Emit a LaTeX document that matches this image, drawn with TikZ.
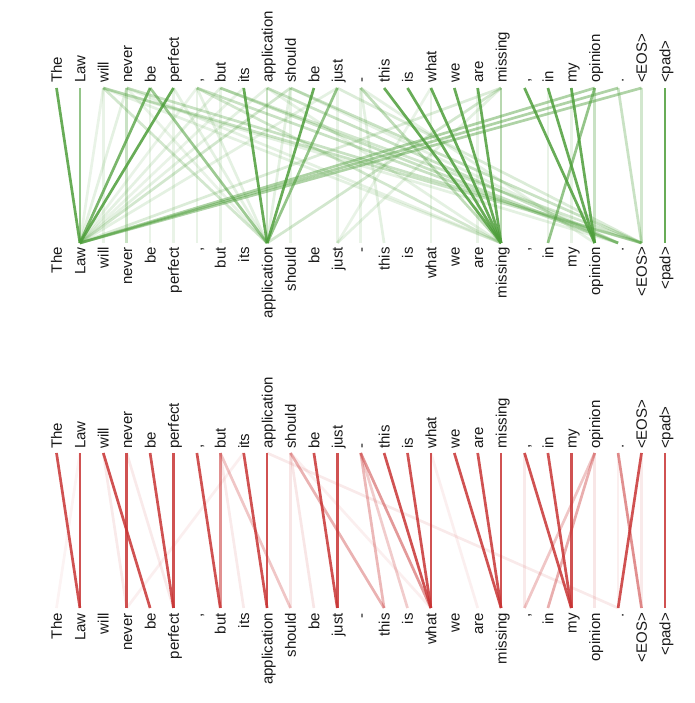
\documentclass[tikz,border=0pt]{standalone}
\usepackage{fontspec}
\setmainfont{Liberation Sans}
\definecolor{gcol}{RGB}{77,158,58}
\definecolor{rcol}{RGB}{200,52,52}
\begin{document}
\begin{tikzpicture}[x=1pt,y=1pt,
  lbl/.style={font=\fontsize{15}{18}\selectfont, rotate=90, inner sep=0pt, text=black!90},
  glink/.style={draw=gcol, line width=2.7pt},
  rlink/.style={draw=rcol, line width=2.7pt}]
\useasboundingbox (0,0) rectangle (694,703);
\foreach \w [count=\n from 0] in {The, Law, will, never, be, perfect, {,}, but, its, application, should, be, just, -, this, is, what, we, are, missing, {,}, in, my, opinion, ., <EOS>, <pad>} {
  \pgfmathsetmacro{\xx}{56.5+23.4*\n}
  \coordinate (gT\n) at (\xx,615);
  \coordinate (gB\n) at (\xx,460);
  \coordinate (rT\n) at (\xx,250);
  \coordinate (rB\n) at (\xx,95);
  \node[lbl, anchor=base west] (gtl\n) at (\xx+5.4,620) {\w};
  \node[lbl, anchor=base east] (gbl\n) at (\xx+5.4,456) {\w};
  \node[lbl, anchor=base west] (rtl\n) at (\xx+5.4,254) {\w};
  \node[lbl, anchor=base east] (rbl\n) at (\xx+5.4,90) {\w};
}
% green attention links
\foreach \a/\b/\o in {2/2/0.12, 6/6/0.12, 7/7/0.12, 10/10/0.12, 12/12/0.12, 13/13/0.12, 16/16/0.12, 18/18/0.12, 21/21/0.12, 22/22/0.12, 3/1/0.15, 2/1/0.12, 5/9/0.15, 6/1/0.12, 7/1/0.15, 8/1/0.12, 12/1/0.15, 19/1/0.2, 13/23/0.15, 3/9/0.12, 5/5/0.12, 4/4/0.12, 9/1/0.15, 10/9/0.15, 2/19/0.15, 3/19/0.15, 12/25/0.2, 9/19/0.15, 6/9/0.15, 16/12/0.12, 19/12/0.15, 13/14/0.15, 2/24/0.15, 10/24/0.15,
 9/9/0.3, 2/25/0.3, 3/25/0.3, 10/25/0.3, 6/24/0.3, 7/24/0.3, 9/24/0.3, 3/3/0.3, 23/23/0.3, 25/25/0.25, 24/25/0.3, 2/9/0.25, 6/19/0.25, 7/25/0.25, 10/1/0.25, 19/9/0.25,
 25/1/0.45, 24/1/0.45, 23/1/0.45, 19/19/0.4, 13/19/0.35,
 1/1/0.6, 12/9/0.6, 23/21/0.6, 4/9/0.55,
 4/1/0.75,
 0/1/0.85, 5/1/0.85, 8/9/0.85, 11/9/0.85, 14/19/0.85, 15/19/0.85, 16/19/0.85, 17/19/0.85, 18/19/0.85, 20/23/0.85, 21/23/0.85, 22/23/0.85, 26/26/0.85}
  \draw[glink, draw opacity=\o] (gT\a) -- (gB\b);
% red attention links
\foreach \a/\b/\o in {10/10/0.12, 10/11/0.12, 9/24/0.1, 2/3/0.1, 3/5/0.1, 8/3/0.08, 23/23/0.12, 25/25/0.1, 20/20/0.1, 16/18/0.08, 10/16/0.08, 7/8/0.1, 24/24/0.08, 1/0/0.06,
 7/10/0.28, 23/20/0.28, 13/15/0.25,
 10/14/0.38, 23/21/0.4, 13/14/0.35,
 7/7/0.55, 24/25/0.55, 13/16/0.5,
 0/1/0.85, 1/1/0.85, 2/4/0.85, 3/3/0.85, 4/5/0.85, 5/5/0.85, 6/7/0.85, 8/9/0.85, 9/9/0.85, 11/12/0.85, 12/12/0.85, 14/16/0.85, 15/16/0.85, 16/16/0.85, 17/19/0.85, 18/19/0.85, 19/19/0.85, 20/22/0.85, 21/22/0.85, 22/22/0.85, 25/24/0.85, 26/26/0.85}
  \draw[rlink, draw opacity=\o] (rT\a) -- (rB\b);
\end{tikzpicture}
\end{document}
